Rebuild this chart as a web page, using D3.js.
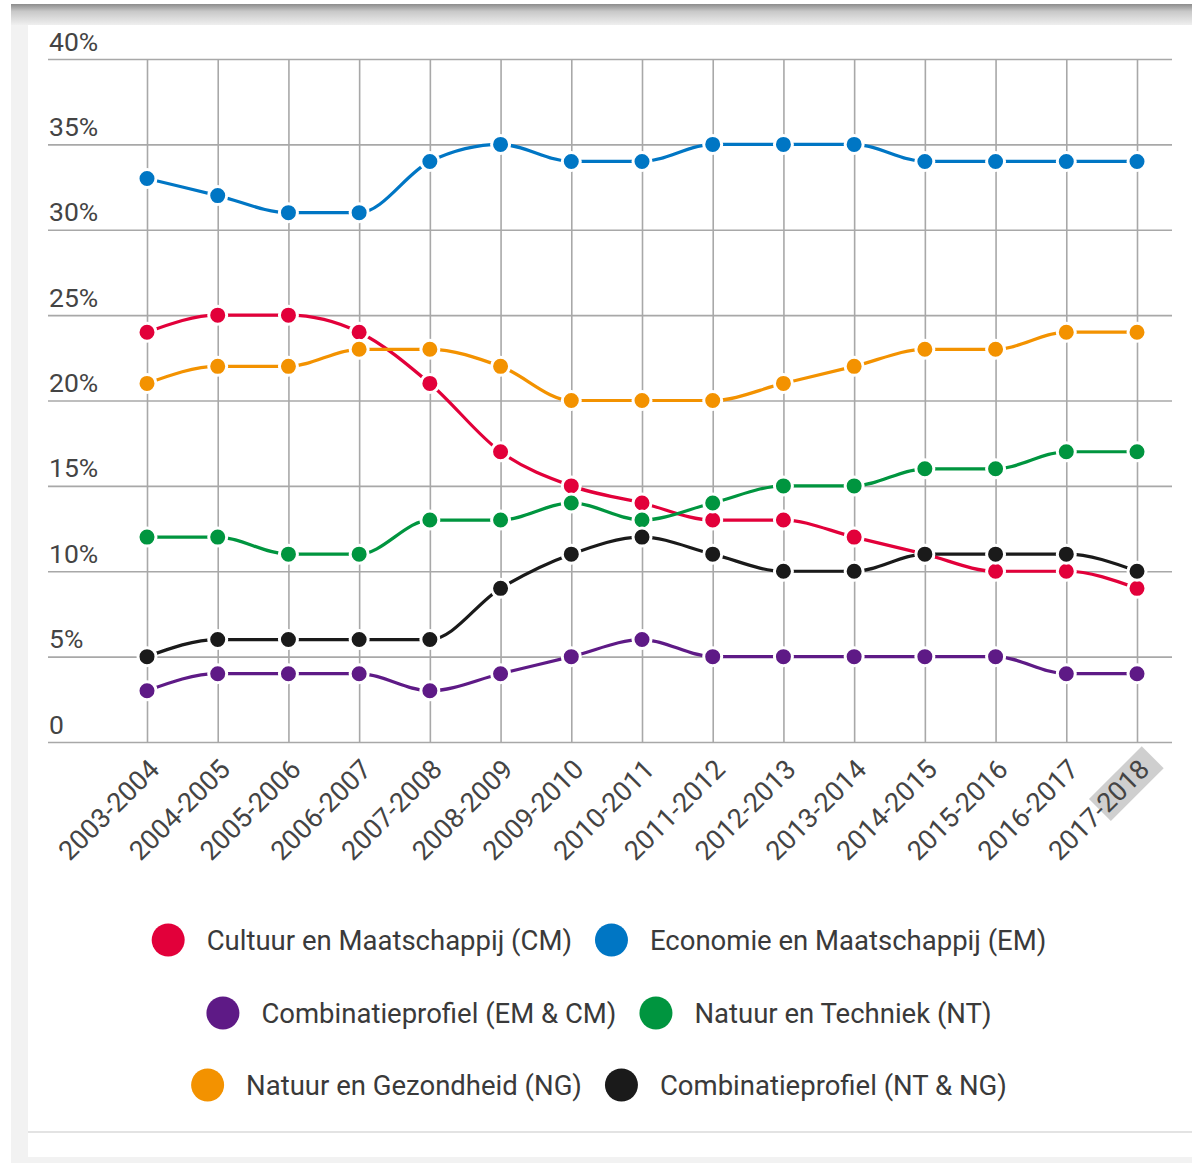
<!DOCTYPE html>
<html>
<head>
<meta charset="utf-8">
<script src="https://cdn.jsdelivr.net/npm/d3@7"></script>
<style>
  html, body { margin: 0; padding: 0; background: #fff; }
  svg { display: block; font-family: Roboto, "Noto Sans", sans-serif; }
</style>
</head>
<body>
<div id="chart"></div>
<script>
const years = ['2003-2004','2004-2005','2005-2006','2006-2007','2007-2008','2008-2009','2009-2010',
  '2010-2011','2011-2012','2012-2013','2013-2014','2014-2015','2015-2016','2016-2017','2017-2018']
const cm    = [24, 25, 25, 24, 21, 17, 15, 14, 13, 13, 12, 11, 10, 10, 9]
const em    = [33, 32, 31, 31, 34, 35, 34, 34, 35, 35, 35, 34, 34, 34, 34]
const emcm  = [3, 4, 4, 4, 3, 4, 5, 6, 5, 5, 5, 5, 5, 4, 4]
const nt    = [12, 12, 11, 11, 13, 13, 14, 13, 14, 15, 15, 16, 16, 17, 17]
const ng    = [21, 22, 22, 23, 23, 22, 20, 20, 20, 21, 22, 23, 23, 24, 24]
const ntng  = [5, 6, 6, 6, 6, 9, 11, 12, 11, 10, 10, 11, 11, 11, 10]
const series_names = ['Cultuur en Maatschappij (CM)', 'Economie en Maatschappij (EM)',
  'Combinatieprofiel (EM & CM)', 'Natuur en Techniek (NT)',
  'Natuur en Gezondheid (NG)', 'Combinatieprofiel (NT & NG)']
const series_colors = ['#e2003a', '#0076c4', '#5e1a86', '#00953f', '#f39200', '#1a1a1a']
const y_ticks = [0, 5, 10, 15, 20, 25, 30, 35, 40]

const series = [cm, em, emcm, nt, ng, ntng].map((values, i) => ({
  name: series_names[i], color: series_colors[i], values: values
}))

const W = 1192, H = 1163
const svg = d3.select('#chart').append('svg').attr('width', W).attr('height', H)

// page frame
const defs = svg.append('defs')
const grad = defs.append('linearGradient').attr('id', 'shade').attr('x1', 0).attr('y1', 0).attr('x2', 0).attr('y2', 1)
grad.append('stop').attr('offset', '0%').attr('stop-color', '#8c8c8c')
grad.append('stop').attr('offset', '35%').attr('stop-color', '#c8c8c8')
grad.append('stop').attr('offset', '100%').attr('stop-color', '#efefef')
svg.append('rect').attr('x', 11).attr('y', 4).attr('width', W - 11).attr('height', H - 4).attr('fill', '#f2f2f2')
svg.append('rect').attr('x', 11).attr('y', 4).attr('width', W - 11).attr('height', 21).attr('fill', 'url(#shade)')
svg.append('rect').attr('x', 28).attr('y', 25).attr('width', W - 28).attr('height', 1132).attr('fill', '#fff')
svg.append('rect').attr('x', 28).attr('y', 1131).attr('width', W - 28).attr('height', 2).attr('fill', '#e3e3e3')

const x = d3.scalePoint().domain(years).range([147, 1137])
const y = d3.scaleLinear().domain([0, 40]).range([742, 59])

// horizontal grid + labels
const y_axis = d3.axisRight(y).tickValues(y_ticks).tickSize(1124)
  .tickFormat(d => d === 0 ? '0' : d + '%')
const gy = svg.append('g').attr('class', 'y axis').attr('transform', 'translate(48,0)').call(y_axis)
gy.select('.domain').remove()
gy.selectAll('line').attr('stroke', '#a8a8a8').attr('stroke-width', 1.6)
gy.selectAll('text')
  .attr('x', 1).attr('dy', -9)
  .attr('text-anchor', 'start')
  .style('font-size', '26.5px').style('fill', '#444').style('font-family', 'Roboto, sans-serif')

// vertical grid + rotated labels
const lx = -11, ly = 30
const x_axis = d3.axisBottom(x).tickSize(-(742 - 59)).tickPadding(0)
const gx = svg.append('g').attr('class', 'x axis').attr('transform', 'translate(0,742)').call(x_axis)
gx.select('.domain').remove()
gx.selectAll('line').attr('stroke', '#a8a8a8').attr('stroke-width', 1.6)
gx.selectAll('text')
  .attr('x', lx).attr('y', ly).attr('dy', 0)
  .attr('transform', 'rotate(-45)')
  .attr('text-anchor', 'end')
  .style('font-size', '27px').style('fill', '#444').style('font-family', 'Roboto, sans-serif')

// selection highlight behind the last label, as in the source picture
const last = gx.selectAll('.tick').filter(d => d === years[years.length - 1])
const tnode = last.select('text').node()
const full = tnode.getComputedTextLength()
const start = tnode.getSubStringLength(0, 5)
last.insert('rect', 'text')
  .attr('transform', 'rotate(-45)')
  .attr('x', lx - full + start - 3)
  .attr('y', ly - 24)
  .attr('width', full - start + 14)
  .attr('height', 31)
  .attr('fill', '#cfcfcf')

// lines and points
const line = d3.line().x((d, i) => x(years[i])).y(d => y(d)).curve(d3.curveMonotoneX)
const groups = svg.selectAll('.series').data(series).enter().append('g').attr('class', 'series')
groups.append('path')
  .attr('d', d => line(d.values))
  .attr('fill', 'none')
  .attr('stroke', d => d.color)
  .attr('stroke-width', 3.2)
groups.selectAll('circle')
  .data(d => d.values.map((v, i) => ({ v: v, i: i, color: d.color })))
  .enter().append('circle')
  .attr('cx', d => x(years[d.i]))
  .attr('cy', d => y(d.v))
  .attr('r', 9)
  .attr('fill', d => d.color)
  .attr('stroke', '#fff')
  .attr('stroke-width', 3)

// legend
const legend_rows = [[0, 1], [2, 3], [4, 5]]
const row_y = [940, 1013, 1085]
const legend_center = 599
const r_dot = 16.5, text_gap = 22, item_gap = 23
legend_rows.forEach((row, ri) => {
  const g = svg.append('g').attr('class', 'legend-row')
  let cursor = 0
  row.forEach((si, k) => {
    const s = series[si]
    if (k > 0) cursor += item_gap
    g.append('circle').attr('cx', cursor + r_dot).attr('cy', row_y[ri]).attr('r', r_dot).attr('fill', s.color)
    cursor += 2 * r_dot + text_gap
    const t = g.append('text').attr('x', cursor).attr('y', row_y[ri]).attr('dy', '0.36em')
      .text(s.name).style('font-size', '27.5px').style('fill', '#3a3a3a')
    cursor += t.node().getComputedTextLength()
  })
  g.attr('transform', 'translate(' + (legend_center - cursor / 2) + ',0)')
})
</script>
</body>
</html>
